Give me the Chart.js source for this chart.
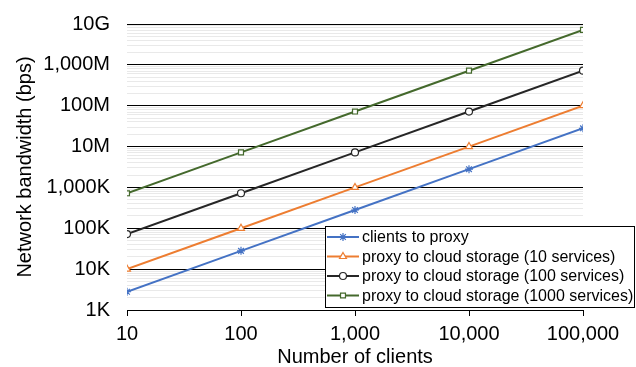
<!DOCTYPE html>
<html lang="en">
<head>
    <meta charset="UTF-8">
    <title>Network bandwidth vs number of clients</title>
    <script src="https://cdn.jsdelivr.net/npm/chart.js@4"></script>
    <style>
        body { margin: 0; background: #fff; }
        canvas { display: block; }
    </style>
</head>
<body>
    <canvas id="chart" width="636" height="367"></canvas>
    <script>
        const clients = [10, 100, 1000, 10000, 100000];
        const clientsToProxy = [2800, 28000, 280000, 2800000, 28000000];
        const storage10 = [10000, 100000, 1000000, 10000000, 100000000];
        const storage100 = [72000, 720000, 7200000, 72000000, 720000000];
        const storage1000 = [720000, 7200000, 72000000, 720000000, 7200000000];

        const seriesNames = [
            'clients to proxy',
            'proxy to cloud storage (10 services)',
            'proxy to cloud storage (100 services)',
            'proxy to cloud storage (1000 services)'
        ];
        const yTickLabels = ['1K', '10K', '100K', '1,000K', '10M', '100M', '1,000M', '10G'];
        const xTickLabels = ['10', '100', '1,000', '10,000', '100,000'];

        const FONT = 'Liberation Sans, Arial, sans-serif';

        function series(label, values, color, style, r) {
            return {
                label: label,
                data: clients.map((c, i) => ({ x: c, y: values[i] })),
                borderColor: color,
                backgroundColor: '#fff',
                pointBorderColor: color,
                pointBackgroundColor: '#fff',
                borderWidth: 2,
                pointStyle: style,
                pointRadius: r,
                pointBorderWidth: 1.2,
                tension: 0
            };
        }

        const datasets = [
            series(seriesNames[0], clientsToProxy, '#4472C4', 'star', 4),
            series(seriesNames[1], storage10, '#ED7D31', 'triangle', 4),
            series(seriesNames[2], storage100, '#262626', 'circle', 3.5),
            series(seriesNames[3], storage1000, '#44692C', 'rect', 3.5)
        ];

        // legend box drawn inside the plot, like the original
        const boxLegend = {
            id: 'boxLegend',
            afterDraw(chart) {
                const ctx = chart.ctx;
                const x = 325.5, y = 226.5, w = 309, h = 81;
                ctx.save();
                ctx.fillStyle = '#fff';
                ctx.fillRect(x, y, w, h);
                ctx.strokeStyle = '#000';
                ctx.lineWidth = 1;
                ctx.strokeRect(x, y, w, h);
                ctx.font = '16px ' + FONT;
                ctx.textBaseline = 'middle';
                chart.data.datasets.forEach((ds, i) => {
                    const cy = 237 + i * 19.5;
                    ctx.strokeStyle = ds.borderColor;
                    ctx.lineWidth = 2;
                    ctx.beginPath();
                    ctx.moveTo(327, cy);
                    ctx.lineTo(359, cy);
                    ctx.stroke();
                    ctx.fillStyle = '#fff';
                    ctx.strokeStyle = ds.pointBorderColor;
                    ctx.lineWidth = 1.2;
                    Chart.helpers.drawPoint(ctx, { pointStyle: ds.pointStyle, radius: ds.pointRadius, rotation: 0, borderWidth: 1.2 }, 343, cy);
                    ctx.fillStyle = '#000';
                    ctx.fillText(ds.label, 362, cy + 1);
                });
                ctx.restore();
            }
        };

        new Chart(document.getElementById('chart'), {
            type: 'line',
            data: { datasets: datasets },
            options: {
                responsive: false,
                animation: false,
                layout: { padding: { top: 24, right: 53, left: 0, bottom: 0 } },
                plugins: { legend: { display: false }, tooltip: { enabled: false } },
                scales: {
                    x: {
                        type: 'logarithmic',
                        min: 10,
                        max: 100000,
                        afterBuildTicks: s => { s.ticks = clients.map(v => ({ value: v, major: true })); },
                        afterFit: s => { s.height = 57; s.paddingLeft = 0; s.paddingRight = 0; },
                        ticks: {
                            autoSkip: false,
                            maxRotation: 0,
                            color: '#000',
                            padding: 6,
                            font: { family: FONT, size: 20 },
                            callback: (v, i) => xTickLabels[i]
                        },
                        grid: { drawOnChartArea: false, drawTicks: true, tickLength: 6, color: '#000', lineWidth: 1 },
                        border: { display: true, color: '#000', width: 1 },
                        title: {
                            display: true,
                            text: 'Number of clients',
                            color: '#000',
                            font: { family: FONT, size: 20, lineHeight: 1 },
                            padding: { top: 0, bottom: 0 }
                        }
                    },
                    y: {
                        type: 'logarithmic',
                        min: 1000,
                        max: 1e10,
                        afterBuildTicks: s => {
                            const t = [];
                            for (let e = 3; e <= 10; e++) {
                                for (let m = 1; m <= 9; m++) {
                                    if (e === 10 && m > 1) break;
                                    t.push({ value: m * Math.pow(10, e), major: m === 1 });
                                }
                            }
                            s.ticks = t;
                        },
                        afterFit: s => { s.width = 127; s.paddingTop = 0; s.paddingBottom = 0; },
                        ticks: {
                            autoSkip: false,
                            color: '#000',
                            padding: 17,
                            font: { family: FONT, size: 20 },
                            callback: v => {
                                const e = Math.log10(v);
                                return Math.abs(e - Math.round(e)) < 1e-9 ? yTickLabels[Math.round(e) - 3] : '';
                            }
                        },
                        grid: {
                            drawTicks: false,
                            color: c => (c.tick && c.tick.major) ? '#000' : '#e9e9e9',
                            lineWidth: 1
                        },
                        border: { display: false },
                        title: {
                            display: true,
                            text: 'Network bandwidth (bps)',
                            color: '#000',
                            font: { family: FONT, size: 20 },
                            padding: { top: 13, bottom: 0 }
                        }
                    }
                }
            },
            plugins: [boxLegend]
        });
    </script>
</body>
</html>
